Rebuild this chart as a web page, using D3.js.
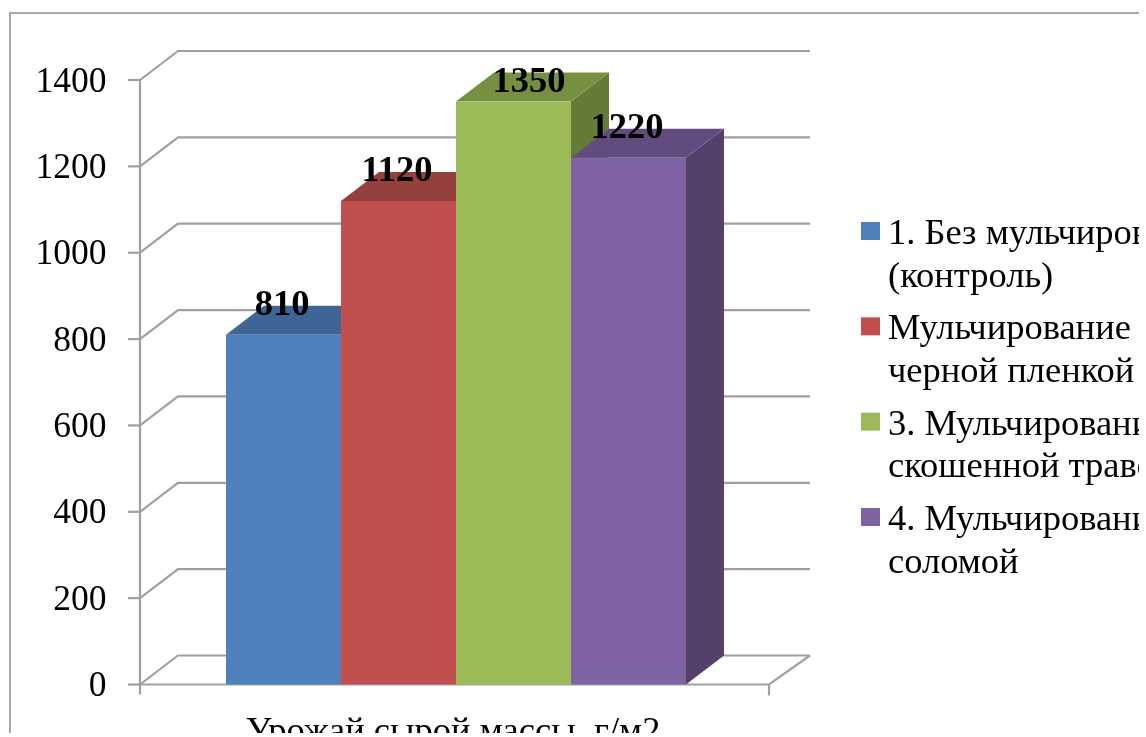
<!DOCTYPE html>
<html><head><meta charset="utf-8">
<script src="https://cdn.jsdelivr.net/npm/d3@7"></script>
<style>html,body{margin:0;padding:0;background:#fff}svg{display:block}text{font-family:"Liberation Serif",serif;fill:#000}</style>
</head><body><svg id="c" width="1146" height="737"></svg>
<script>
const seriesNames = ["1","2","3","4"];
const seriesValues = [810,1120,1350,1220];
const legendLines = [["1. Без мульчирования","(контроль)"],["Мульчирование","черной пленкой"],["3. Мульчирование","скошенной травой"],["4. Мульчирование","соломой"]];
const frontColors = ["#4F81BD","#C0504D","#9BBB59","#8064A2"];
const topColors = ["#3E6595","#943F3D","#769043","#624C7E"];
const sideColors = ["#37587F","#7F3735","#657B39","#54406A"];
const yTicks = [0,200,400,600,800,1000,1200,1400];
const categoryLabel = "Урожай сырой массы, г/м2";

const svg = d3.select("#c");
const defs = svg.append("defs");
defs.append("clipPath").attr("id","pg").append("rect").attr("x",0).attr("y",0).attr("width",1139).attr("height",733);
defs.append("filter").attr("id","soft").attr("x",0).attr("y",0).attr("width",1).attr("height",1)
  .append("feGaussianBlur").attr("stdDeviation",0.6);
const root = svg.append("g").attr("clip-path","url(#pg)").append("g").attr("filter","url(#soft)");
root.append("rect").attr("width",1146).attr("height",737).attr("fill","#fff");

const grey = "#a0a0a0";
const dx = 38, dy = -29;
const fs = 36.5;
const y = d3.scaleLinear().domain([0,1400]).range([684.5,80]);
const x0 = 140, x1 = 769;
const x = d3.scaleBand().domain(seriesNames).range([226,686]);

// chart frame
root.append("path").attr("d","M10,740V13H1139").attr("fill","none").attr("stroke","#a8a8a8").attr("stroke-width",2);

// walls and gridlines
const grid = root.append("g").attr("fill","none").attr("stroke",grey).attr("stroke-width",2.2);
yTicks.forEach(t=>{
  grid.append("path").attr("d",`M${x0},${y(t)}L${x0+dx},${y(t)+dy}H${x1+dx+3}`);
  grid.append("line").attr("x1",x0-12).attr("x2",x0).attr("y1",y(t)).attr("y2",y(t));
});
grid.append("line").attr("x1",x0).attr("x2",x0).attr("y1",y(1400)).attr("y2",y(0)+10);
grid.append("path").attr("d",`M${x0},${y(0)}H${x1}L${x1+dx+3},${y(0)+dy}`);
grid.append("line").attr("x1",x1).attr("x2",x1).attr("y1",y(0)).attr("y2",y(0)+11);

// tick labels
root.append("g").selectAll("text").data(yTicks).join("text")
  .attr("x",106.5).attr("y",t=>y(t)+11.5).attr("text-anchor","end")
  .attr("font-size",35.5).text(t=>t);

// bars
seriesNames.forEach((s,i)=>{
  const v = seriesValues[i], l = x(s), r = l+x.bandwidth(), t = y(v), b = y(0);
  const g = root.append("g");
  g.append("path").attr("d",`M${r},${t}L${r+dx},${t+dy}V${b+dy}L${r},${b}Z`).attr("fill",sideColors[i]);
  g.append("path").attr("d",`M${l},${t}L${l+dx},${t+dy}H${r+dx}L${r},${t}Z`).attr("fill",topColors[i]);
  g.append("rect").attr("x",l).attr("y",t).attr("width",x.bandwidth()).attr("height",b-t).attr("fill",frontColors[i]);
});

// value labels
const nudgeX = [0,0,17,0], nudgeY = [-20,-20,-10,-20];
root.append("g").selectAll("text").data(seriesValues).join("text")
  .attr("x",(v,i)=>x(seriesNames[i])+x.bandwidth()/2+nudgeX[i]-1.5)
  .attr("y",(v,i)=>y(v)+nudgeY[i])
  .attr("text-anchor","middle").attr("font-weight","bold").attr("font-size",fs).text(v=>v);

// category label
root.append("text").attr("x",453).attr("y",742).attr("text-anchor","middle").attr("font-size",fs).text(categoryLabel);

// legend
const legendY = d3.scaleLinear().domain([0,3]).range([231,517]);
legendLines.forEach((lines,i)=>{
  const c = legendY(i);
  root.append("rect").attr("x",861).attr("y",c-9).attr("width",19).attr("height",18).attr("fill",frontColors[i]);
  root.append("text").attr("x",888).attr("y",c+13).attr("font-size",fs).text(lines[0]);
  root.append("text").attr("x",888).attr("y",c+55.5).attr("font-size",fs).text(lines[1]);
});
</script></body></html>
